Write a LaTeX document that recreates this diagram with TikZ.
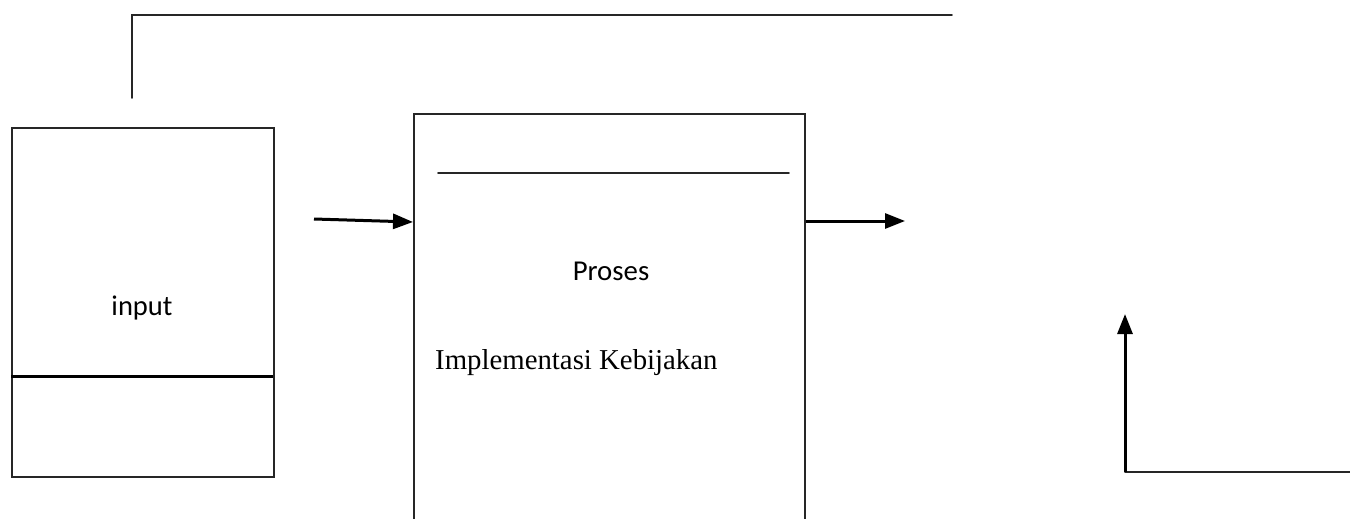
\documentclass[tikz,border=0pt]{standalone}
\usepackage{fontspec}
\setmainfont{Liberation Serif}
\newfontfamily\calib{Carlito}
\usetikzlibrary{arrows.meta}
\begin{document}
\begin{tikzpicture}[x=1pt,y=-1pt,
  thinline/.style={line width=1.6pt, black!85, line cap=round},
  thickline/.style={line width=3pt, black},
  arrowline/.style={line width=3pt, black, -{Triangle[length=20pt,width=15pt]}},
  lbl/.style={inner sep=0pt, anchor=base}]
\useasboundingbox (0,0) rectangle (1350,519);
\fill[white] (0,0) rectangle (1350,519);
% input box
\node[draw, thinline, minimum width=262pt, minimum height=349pt, anchor=north west, inner sep=0pt] (inbox) at (11,127) {};
\coordinate (divL) at (11,376);
\coordinate (divR) at (273,376);
\draw[thickline] (divL) -- (divR);
\node[lbl, font=\calib\fontsize{28.5}{34}\selectfont] (intext) at (142,315) {input};
% feedback top line
\coordinate (fbA) at (132,98);
\coordinate (fbB) at (132,15);
\coordinate (fbC) at (952,15);
\draw[thinline] (fbA) -- (fbB) -- (fbC);
% proses box (open at bottom)
\coordinate (pBL) at (414,519);
\coordinate (pTL) at (414,114);
\coordinate (pTR) at (805,114);
\coordinate (pBR) at (805,519);
\draw[thinline] (pBL) -- (pTL) -- (pTR) -- (pBR);
\coordinate (pinL) at (438,173);
\coordinate (pinR) at (789,173);
\draw[thinline] (pinL) -- (pinR);
\node[lbl, font=\calib\fontsize{28.8}{34}\selectfont] (proses) at (611,280) {Proses};
\node[inner sep=0pt, anchor=base west, font=\fontsize{28.8}{34}\selectfont] (impl) at (435,369) {Implementasi Kebijakan};
% arrows
\coordinate (a1s) at (314,219);
\coordinate (a1e) at (413,222);
\draw[arrowline] (a1s) -- (a1e);
\coordinate (a2s) at (806,221);
\coordinate (a2e) at (905,221);
\draw[arrowline] (a2s) -- (a2e);
% bottom right feedback
\coordinate (brR) at (1350,472);
\coordinate (brC) at (1125,472);
\coordinate (brT) at (1125,314);
\draw[thinline] (brR) -- (brC);
\draw[arrowline] (brC) -- (brT);
\end{tikzpicture}
\end{document}
